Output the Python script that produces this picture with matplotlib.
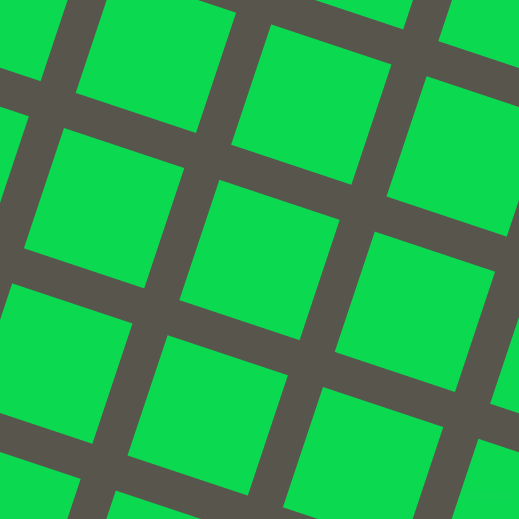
import numpy as np
import matplotlib.pyplot as plt

# tile grid indices (columns along the tilted rows, rows across)
cols = list(range(-3, 6))
rows = list(range(-3, 6))

tile_color = '#0BDA51'
gap_color = '#58554D'

angle = np.arctan(1 / 3)       # grid tilt
period = 163.8                 # tile + gap, in pixels
side = 126.8                   # tile edge
origin = np.array([64.0, 128.0])

u = np.array([np.cos(angle), np.sin(angle)])
v = np.array([-np.sin(angle), np.cos(angle)])

fig = plt.figure(figsize=(5.19, 5.19), dpi=100)
fig.patch.set_facecolor(gap_color)
ax = fig.add_axes([0, 0, 1, 1])
ax.set_facecolor(gap_color)

for i in cols:
    for j in rows:
        p0 = origin + i * period * u + j * period * v
        corners = np.array([p0, p0 + side * u, p0 + side * (u + v), p0 + side * v])
        ax.fill(corners[:, 0], corners[:, 1], color=tile_color, lw=0)

ax.text(487, 496, 'pixlis.com', color='#1FD25A', fontsize=7, ha='center', va='center', alpha=0.6)

ax.set_xlim(0, 519)
ax.set_ylim(519, 0)
ax.axis('off')

plt.savefig('out.png', dpi=100, facecolor=gap_color)
